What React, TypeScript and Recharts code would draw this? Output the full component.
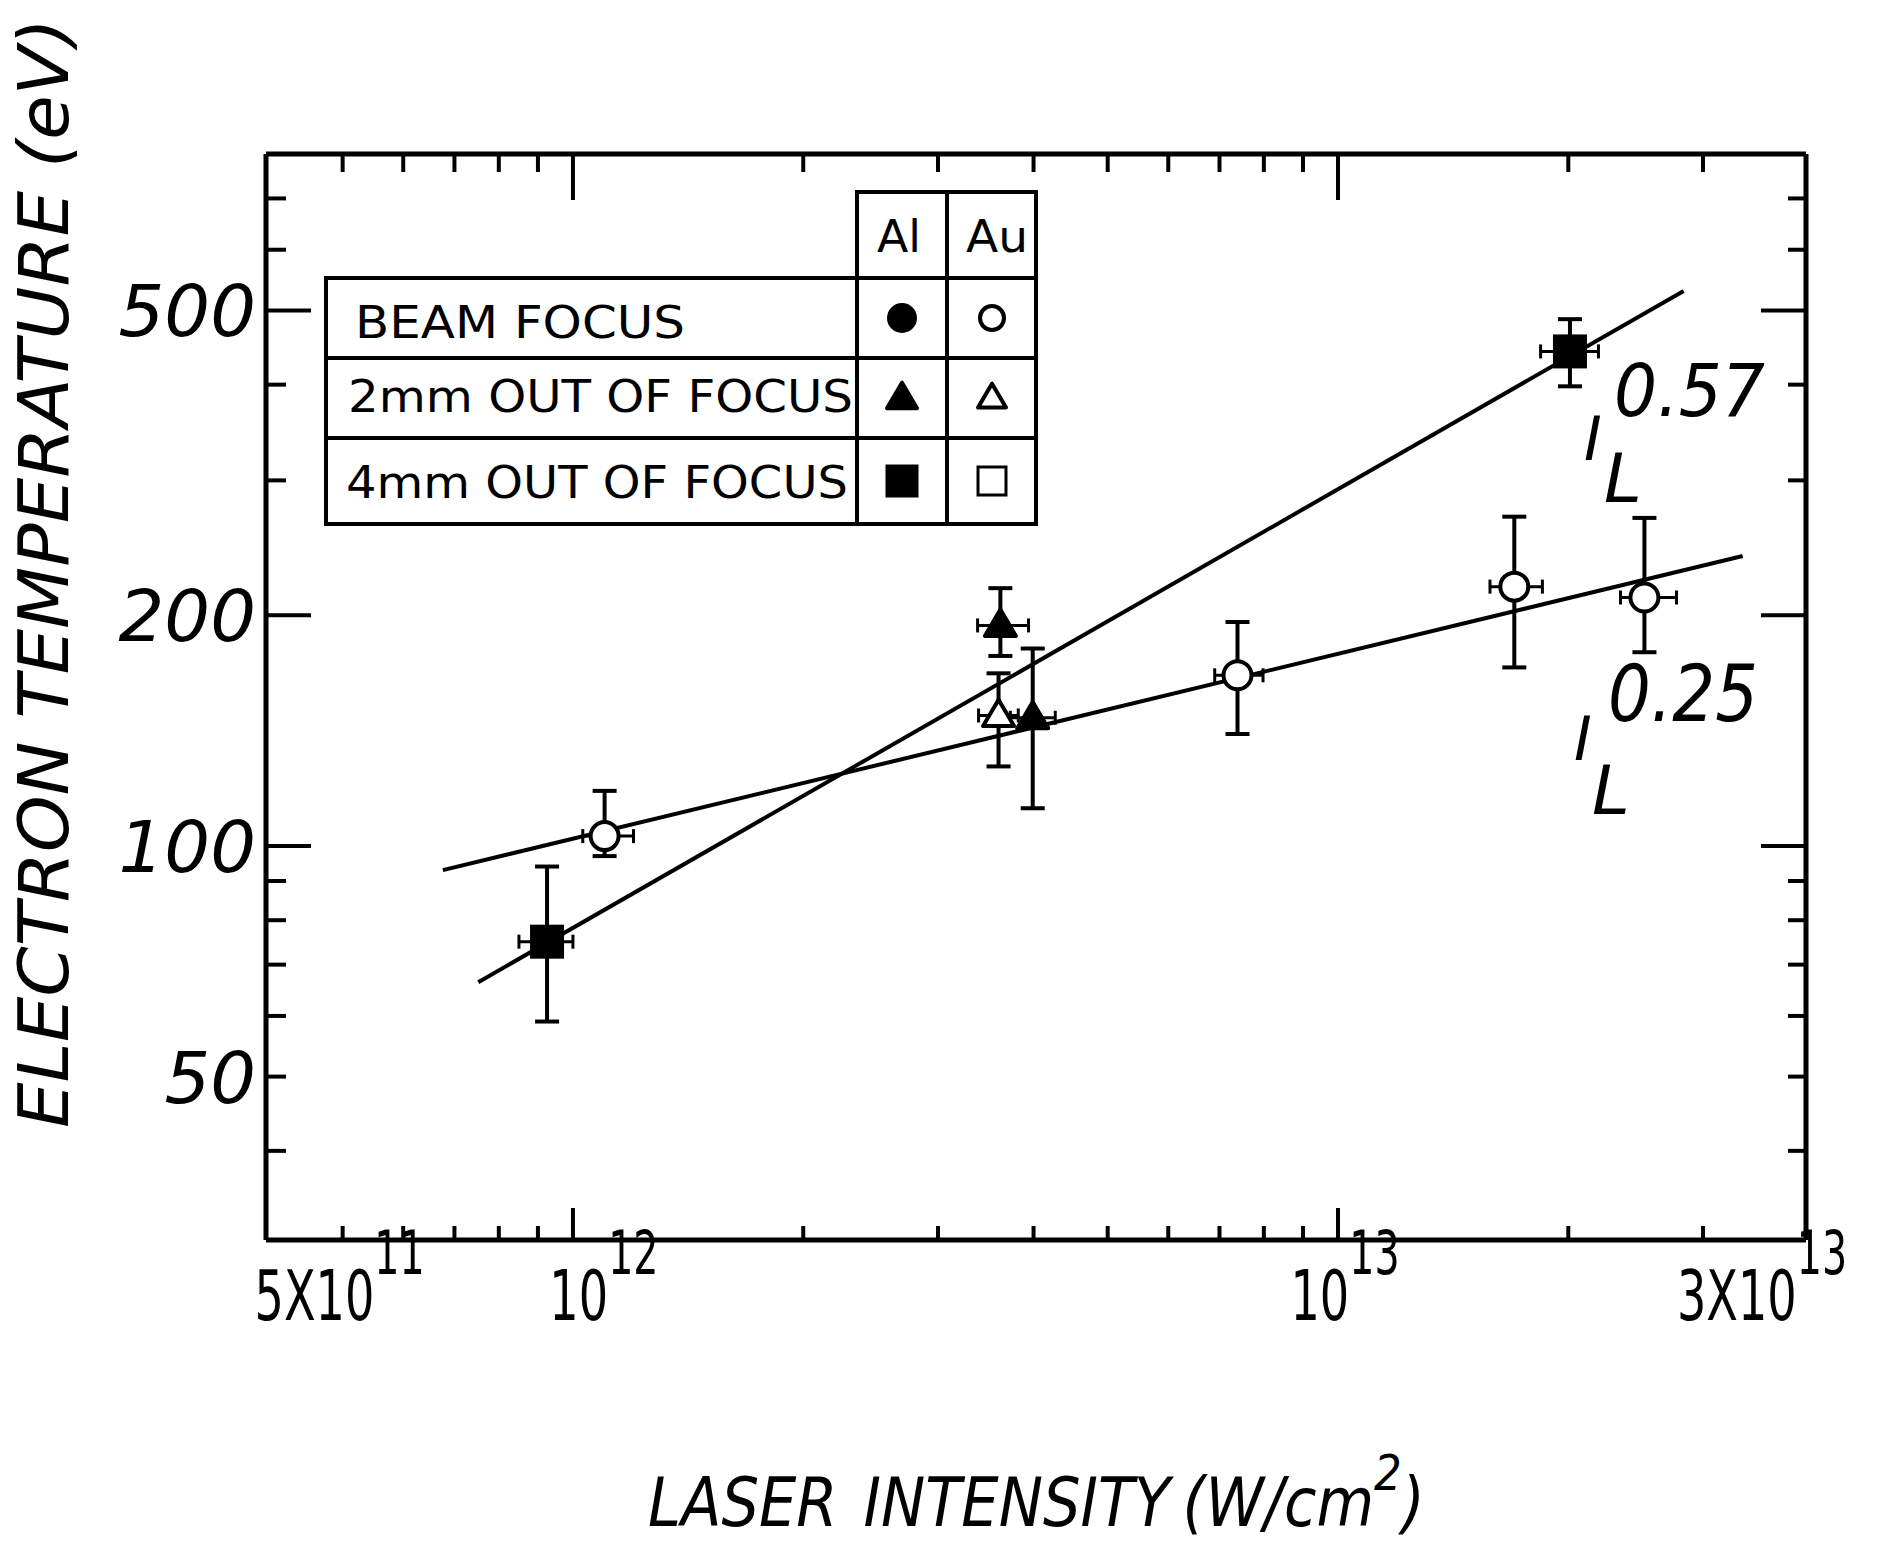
import React from "react";
import { ComposedChart, XAxis, YAxis, Scatter, Line, ErrorBar } from "recharts";

const W = 1866;
const H = 1530;
const PLOT_L = 258;
const PLOT_R = 1798;
const PLOT_T = 146;
const PLOT_B = 1232;
const INK = "#000";
const FONT = "'DejaVu Sans', Verdana, sans-serif";

// axes
const xDomain = [3.97e11, 4.09e13];
const yDomain = [30.6, 800];
const xTicks = [5e11, 6e11, 7e11, 8e11, 9e11, 1e12, 2e12, 3e12, 4e12, 5e12, 6e12, 7e12, 8e12, 9e12, 1e13, 2e13, 3e13];
const xMajorTicks = [1e12, 1e13];
const xLabelTicks = [5e11, 1e12, 1e13, 3e13];
const xLabelBase = ["5X10", "10", "10", "3X10"];
const xLabelExp = ["11", "12", "13", "13"];
const yTicks = [40, 50, 60, 70, 80, 90, 100, 200, 300, 400, 500, 600, 700];
const yMajorTicks = [100, 200, 500];
const yLabelTicks = [50, 100, 200, 500];

// Al targets (filled symbols)
const al2mm = [
  { x: 3.62e12, y: 194, yLo: 177, yHi: 217, xLo: 3.38e12, xHi: 3.94e12 },
  { x: 3.99e12, y: 147, yLo: 112, yHi: 181, xLo: 3.73e12, xHi: 4.27e12 },
];
const al4mm = [
  { x: 9.25e11, y: 75, yLo: 59, yHi: 94, xLo: 8.5e11, xHi: 1.0e12 },
  { x: 2.01e13, y: 442, yLo: 398, yHi: 487, xLo: 1.84e13, xHi: 2.19e13 },
];
// Au targets (open symbols)
const auFocus = [
  { x: 1.1e12, y: 103, yLo: 97, yHi: 118, xLo: 1.03e12, xHi: 1.2e12 },
  { x: 7.39e12, y: 167, yLo: 140, yHi: 196, xLo: 6.9e12, xHi: 7.98e12 },
  { x: 1.7e13, y: 218, yLo: 171, yHi: 269, xLo: 1.58e13, xHi: 1.85e13 },
  { x: 2.515e13, y: 211, yLo: 179, yHi: 268, xLo: 2.34e13, xHi: 2.77e13 },
];
const au2mm = [
  { x: 3.6e12, y: 148, yLo: 127, yHi: 168, xLo: 3.39e12, xHi: 3.82e12 },
];

// power-law fits
const fit057 = [{ x: 7.52e11, y: 66.4 }, { x: 2.83e13, y: 530 }];
const fit025 = [{ x: 6.76e11, y: 93 }, { x: 3.38e13, y: 239 }];

// legend table
const legendRows = ["BEAM FOCUS", "2mm OUT OF FOCUS", "4mm OUT OF FOCUS"];
const legendKinds = ["circle", "triangle", "square"];
const legendCols = ["Al", "Au"];

const withErrors = (rows: any[]) =>
  rows.map((r) => ({ x: r.x, y: r.y, ey: [r.y - r.yLo, r.yHi - r.y], ex: [r.x - r.xLo, r.xHi - r.x] }));

const Mark = ({ kind, filled, cx, cy, size }: any) => {
  const fill = filled ? INK : "#fff";
  const r = size / 2;
  if (kind === "circle") return <circle cx={cx} cy={cy} r={r - 2} fill={fill} stroke={INK} strokeWidth={4} />;
  if (kind === "square")
    return <rect x={cx - r} y={cy - r} width={size} height={size} fill={fill} stroke={INK} strokeWidth={3} />;
  const h = size * 0.85;
  return (
    <polygon
      points={`${cx},${cy - h * 0.6} ${cx - r},${cy + h * 0.4} ${cx + r},${cy + h * 0.4}`}
      fill={fill}
      stroke={INK}
      strokeWidth={4}
      strokeLinejoin="round"
    />
  );
};

const shapeOf = (kind: string, filled: boolean) => (p: any) =>
  <Mark kind={kind} filled={filled} cx={p.cx} cy={p.cy} size={kind === "circle" ? 32 : 31} />;

// hand-lettered labels sit a little off their ticks
const xLabelShift = [-3, 31, 7, 59];

const BottomTick = (props: any) => {
  const v = props.payload.value;
  const x = props.payload.coordinate;
  const i = xLabelTicks.indexOf(v);
  return (
    <g>
      <line x1={x} x2={x} y1={PLOT_B} y2={PLOT_B - (xMajorTicks.includes(v) ? 32 : 14)} stroke={INK} strokeWidth={4} />
      {i >= 0 && (
        <g transform={`translate(${x + xLabelShift[i]},${PLOT_B + 80}) scale(0.66,1)`}>
          <text x={0} y={0} textAnchor="middle" fontFamily={FONT} fontSize={70} fill={INK}>
            <tspan>{xLabelBase[i]}</tspan>
            <tspan dy={-46} fontSize={60}>{xLabelExp[i]}</tspan>
          </text>
        </g>
      )}
    </g>
  );
};

const TopTick = (props: any) => {
  const v = props.payload.value;
  const x = props.payload.coordinate;
  return <line x1={x} x2={x} y1={PLOT_T} y2={PLOT_T + (xMajorTicks.includes(v) ? 46 : 18)} stroke={INK} strokeWidth={4} />;
};

const LeftTick = (props: any) => {
  const v = props.payload.value;
  const y = props.payload.coordinate;
  return (
    <g>
      <line x1={PLOT_L} x2={PLOT_L + (yMajorTicks.includes(v) ? 45 : 20)} y1={y} y2={y} stroke={INK} strokeWidth={4} />
      {yLabelTicks.includes(v) && (
        <text x={248} y={y + 26} textAnchor="end" fontFamily={FONT} fontStyle="italic" fontSize={72} fill={INK}>
          {v}
        </text>
      )}
    </g>
  );
};

const RightTick = (props: any) => {
  const v = props.payload.value;
  const y = props.payload.coordinate;
  return <line x1={PLOT_R} x2={PLOT_R - (yMajorTicks.includes(v) ? 45 : 18)} y1={y} y2={y} stroke={INK} strokeWidth={4} />;
};

// overlay covers the whole page; inner group uses the chart's own coordinates
const Overlay = () => {
  const rowY = [270, 350, 430, 516];
  const textX = [347, 340, 338];
  const textBase = [330, 404, 490];
  const textLen = [330, 505, 502];
  const colX = [894, 984];
  return (
    <svg width={W + 16} height={H + 16} style={{ position: "absolute", left: -8, top: -8, pointerEvents: "none" }}>
      <g transform="translate(8,8)">
        {/* legend table */}
        <g stroke={INK} strokeWidth={4} fill="none">
          <rect x={849} y={184} width={179} height={86} />
          <rect x={318} y={270} width={710} height={246} />
          <line x1={849} x2={849} y1={184} y2={516} />
          <line x1={939} x2={939} y1={184} y2={516} />
          {rowY.slice(1, 3).map((y) => (
            <line key={y} x1={318} x2={1028} y1={y} y2={y} />
          ))}
        </g>
        <text x={869} y={244} fontFamily={FONT} fontSize={44} textLength={44} lengthAdjust="spacingAndGlyphs">{legendCols[0]}</text>
        <text x={958} y={244} fontFamily={FONT} fontSize={44} textLength={62} lengthAdjust="spacingAndGlyphs">{legendCols[1]}</text>
        {legendRows.map((label, i) => (
          <g key={label}>
            <text x={textX[i]} y={textBase[i]} fontFamily={FONT} fontSize={45} textLength={textLen[i]} lengthAdjust="spacingAndGlyphs">
              {label}
            </text>
            <Mark kind={legendKinds[i]} filled cx={colX[0]} cy={(rowY[i] + rowY[i + 1]) / 2} size={30} />
            <Mark kind={legendKinds[i]} filled={false} cx={colX[1]} cy={(rowY[i] + rowY[i + 1]) / 2} size={28} />
          </g>
        ))}

        {/* power-law annotations */}
        <g fontFamily={FONT} fontStyle="italic" fill={INK}>
          <text x={1606} y={408} fontSize={73} textLength={151} lengthAdjust="spacingAndGlyphs">0.57</text>
          <text x={1576} y={452} fontSize={60}>I</text>
          <text x={1596} y={494} fontSize={68}>L</text>
          <text x={1600} y={713} fontSize={78} textLength={150} lengthAdjust="spacingAndGlyphs">0.25</text>
          <text x={1566} y={752} fontSize={60}>I</text>
          <text x={1584} y={806} fontSize={68}>L</text>
        </g>

        {/* axis titles */}
        <text
          transform="translate(60,565) rotate(-90)"
          textAnchor="middle"
          fontFamily={FONT}
          fontStyle="italic"
          fontSize={70}
          textLength={1110}
          lengthAdjust="spacingAndGlyphs"
          fill={INK}
        >
          ELECTRON TEMPERATURE (eV)
        </text>
        <g transform="translate(640,1518) scale(0.87,1)">
          <text x={0} y={0} fontFamily={FONT} fontStyle="italic" fontSize={68} fill={INK}>
            <tspan>LASER</tspan>
            <tspan dx={30}>INTENSITY</tspan>
            <tspan dx={14}>(W/cm</tspan>
            <tspan dy={-36} fontSize={50}>2</tspan>
            <tspan dy={36}>)</tspan>
          </text>
        </g>
      </g>
    </svg>
  );
};

export default function App() {
  const axisLine = { stroke: INK, strokeWidth: 5 };
  return (
    <div style={{ position: "relative", width: W, height: H, background: "#fff" }}>
      <ComposedChart width={W} height={H} margin={{ top: 116, right: 48, bottom: 0, left: 0 }}>
        <XAxis
          type="number"
          dataKey="x"
          scale="log"
          domain={xDomain}
          allowDataOverflow
          ticks={xTicks}
          interval={0}
          tick={BottomTick}
          tickLine={false}
          axisLine={axisLine}
          height={298}
        />
        <XAxis
          xAxisId="top"
          orientation="top"
          type="number"
          dataKey="x"
          scale="log"
          domain={xDomain}
          allowDataOverflow
          ticks={xTicks}
          interval={0}
          tick={TopTick}
          tickLine={false}
          axisLine={axisLine}
          height={30}
        />
        <YAxis
          type="number"
          scale="log"
          domain={yDomain}
          allowDataOverflow
          ticks={yTicks}
          interval={0}
          tick={LeftTick}
          tickLine={false}
          axisLine={axisLine}
          width={258}
        />
        <YAxis
          yAxisId="right"
          orientation="right"
          type="number"
          scale="log"
          domain={yDomain}
          allowDataOverflow
          ticks={yTicks}
          interval={0}
          tick={RightTick}
          tickLine={false}
          axisLine={axisLine}
          width={20}
        />
        <Line data={fit057} dataKey="y" type="linear" stroke={INK} strokeWidth={4} dot={false} activeDot={false} isAnimationActive={false} />
        <Line data={fit025} dataKey="y" type="linear" stroke={INK} strokeWidth={4} dot={false} activeDot={false} isAnimationActive={false} />
        <Scatter data={withErrors(auFocus)} dataKey="y" shape={shapeOf("circle", false)} isAnimationActive={false}>
          <ErrorBar dataKey="ey" direction="y" width={12} stroke={INK} strokeWidth={4} isAnimationActive={false} />
          <ErrorBar dataKey="ex" direction="x" width={7} stroke={INK} strokeWidth={3} isAnimationActive={false} />
        </Scatter>
        <Scatter data={withErrors(au2mm)} dataKey="y" shape={shapeOf("triangle", false)} isAnimationActive={false}>
          <ErrorBar dataKey="ey" direction="y" width={12} stroke={INK} strokeWidth={4} isAnimationActive={false} />
          <ErrorBar dataKey="ex" direction="x" width={7} stroke={INK} strokeWidth={3} isAnimationActive={false} />
        </Scatter>
        <Scatter data={withErrors(al2mm)} dataKey="y" shape={shapeOf("triangle", true)} isAnimationActive={false}>
          <ErrorBar dataKey="ey" direction="y" width={12} stroke={INK} strokeWidth={4} isAnimationActive={false} />
          <ErrorBar dataKey="ex" direction="x" width={7} stroke={INK} strokeWidth={3} isAnimationActive={false} />
        </Scatter>
        <Scatter data={withErrors(al4mm)} dataKey="y" shape={shapeOf("square", true)} isAnimationActive={false}>
          <ErrorBar dataKey="ey" direction="y" width={12} stroke={INK} strokeWidth={4} isAnimationActive={false} />
          <ErrorBar dataKey="ex" direction="x" width={7} stroke={INK} strokeWidth={3} isAnimationActive={false} />
        </Scatter>
      </ComposedChart>
      <Overlay />
    </div>
  );
}
